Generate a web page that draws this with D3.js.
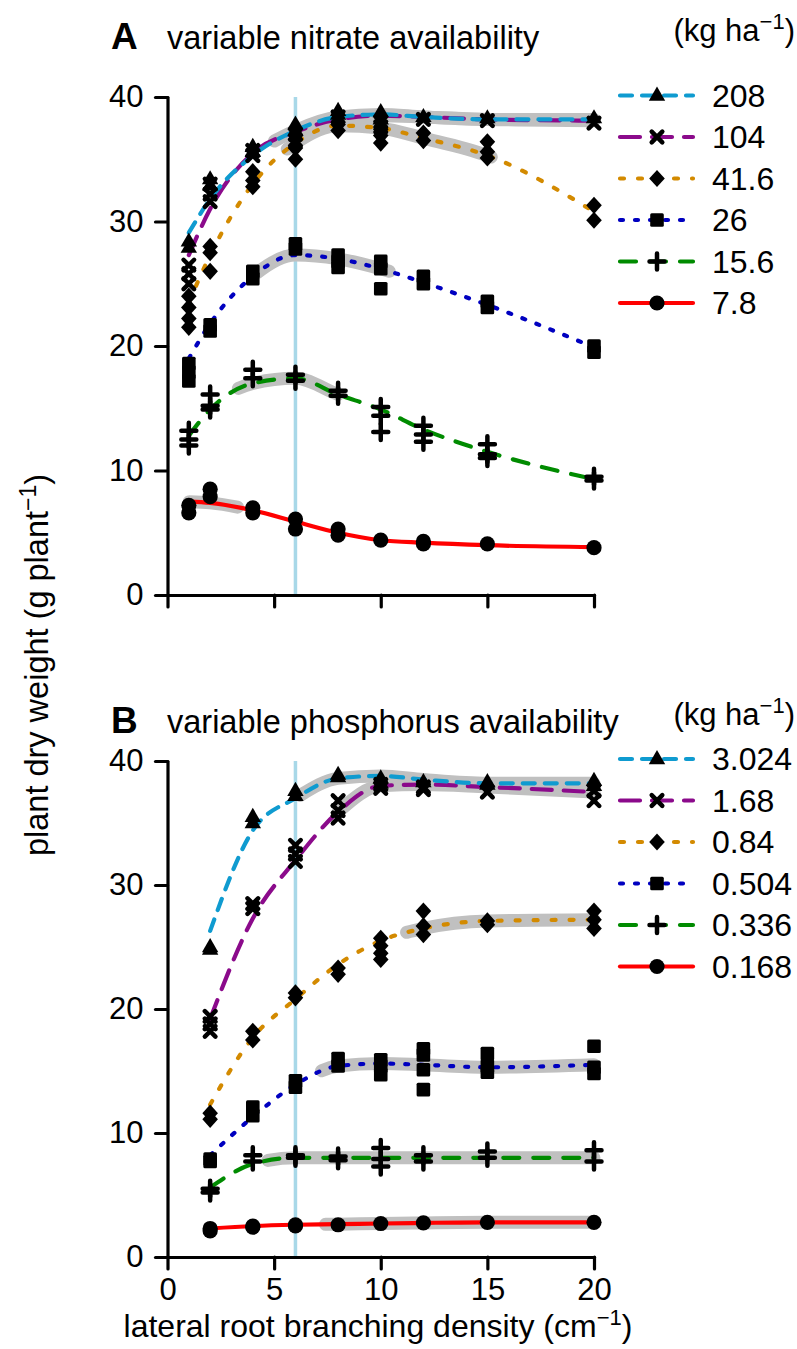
<!DOCTYPE html>
<html><head><meta charset="utf-8">
<script src="https://cdn.jsdelivr.net/npm/d3@7/dist/d3.min.js"></script>
<style>
body{margin:0;background:#fff}
text{font-family:"Liberation Sans",Arial,Helvetica,sans-serif;fill:#000}
</style>
</head><body>
<svg id="c" width="797" height="1349"></svg>
<script>
// ---------- data ----------
const xTicks = [0, 5, 10, 15, 20];
const yTicks = [0, 10, 20, 30, 40];
const optimumX = 6;

const labelsA = ["208", "104", "41.6", "26", "15.6", "7.8"];
const labelsB = ["3.024", "1.68", "0.84", "0.504", "0.336", "0.168"];

const xA = [1, 2, 4, 6, 8, 10, 12, 15, 20];
const xB = [2, 4, 6, 8, 10, 12, 15, 20];

// fitted curves (panel A)
const fitA_208  = [29.1, 31.8, 35.3, 37.3, 38.4, 38.6, 38.4, 38.2, 38.2];
const fitA_104  = [27.3, 31.0, 35.5, 37.2, 38.2, 38.5, 38.4, 38.2, 38.1];
const fitA_41_6 = [23.5, 27.3, 33.0, 36.3, 37.7, 37.5, 36.7, 35.3, 30.8];
const fitA_26   = [19.0, 21.8, 25.6, 27.3, 27.0, 26.2, 25.1, 23.3, 19.9];
const fitA_15_6 = [12.8, 14.9, 17.0, 17.4, 16.1, 14.9, 13.3, 11.5, 9.3];
const fitA_7_8  = [7.5, 7.4, 6.8, 5.9, 5.0, 4.4, 4.2, 4.0, 3.85];

// observations (panel A), replicates per x
const obsA_208  = [[28.4,27.9],[33.4,32.9],[36.0,35.6],[37.8,37.3],[38.9,38.6],[38.8,38.2],[38.4],[38.3],[38.3]];
const obsA_104  = [[26.5,25.8,25.0],[33.0,32.2,31.6],[35.7,35.3],[37.0,36.5],[38.4],[38.0,37.6],[38.2],[38.1],[37.9]];
const obsA_41_6 = [[24.0,23.1,22.2,21.5],[28.0,27.5,26.0],[34.0,33.3,32.8],[36.6,35.9,35.0],[37.8,37.3],[37.4,36.9,36.3],[37.1,36.5],[36.4,35.6,35.1],[31.3,30.1]];
const obsA_26   = [[18.6,17.9,17.2],[21.7,21.2],[26.0,25.4],[28.2,27.8],[27.3,26.8,26.3],[26.8,26.2,24.6],[25.6,25.0],[23.6,23.1],[20.0,19.5]];
const obsA_15_6 = [[13.2,12.5,12.0],[16.1,15.2,14.9],[18.1,17.4],[17.7,17.2],[16.4,16.0],[15.1,14.4,13.1],[13.6,12.9,12.3],[12.1,11.3,11.0],[9.5,9.2]];
const obsA_7_8  = [[7.2,6.6],[8.5,7.9],[7.0,6.6],[6.1,5.3],[5.3,4.8],[4.4],[4.3,4.1],[4.1],[3.8]];

// near-optimal ranges (grey bands), panel A
const bandA = [[5.0,20],[6.0,20],[5.6,15.2],[4.2,10.4],[3.3,8.0],[1.0,3.3]];

// fitted curves (panel B)
const fitB_3_024 = [26.3, 34.4, 37.0, 38.6, 38.8, 38.5, 38.2, 38.2];
const fitB_1_68  = [19.2, 27.3, 32.0, 35.9, 38.0, 38.1, 37.9, 37.5];
const fitB_0_84  = [12.3, 17.7, 20.8, 23.6, 25.5, 26.5, 27.1, 27.2];
const fitB_0_504 = [8.2, 11.3, 13.9, 15.4, 15.6, 15.5, 15.3, 15.5];
const fitB_0_336 = [5.6, 7.5, 8.0, 8.0, 8.0, 8.0, 8.0, 8.0];
const fitB_0_168 = [2.3, 2.5, 2.6, 2.65, 2.7, 2.75, 2.8, 2.8];

// observations (panel B)
const obsB_3_024 = [[25.0,24.8],[35.5,35.0],[37.6,37.2],[38.9,38.7],[38.6,38.2],[38.3],[38.3,38.1],[38.4,38.0]];
const obsB_1_68  = [[19.4,18.8,18.2],[28.5,28.1],[33.2,32.5,31.9],[36.8,36.0,35.4],[38.1,37.8],[37.9,37.7],[37.5],[37.6,36.8]];
const obsB_0_84  = [[11.6,11.1],[18.2,17.5],[21.3,20.9],[23.3,22.8],[25.7,25.1,24.5,24.0],[27.9,26.7,26.0],[27.1,26.8],[27.9,27.2,26.5]];
const obsB_0_504 = [[7.9,7.7],[12.1,11.4],[14.2,13.7],[16.0,15.4],[15.9,15.4,14.7],[16.8,16.3,15.1,13.5],[16.4,15.4,14.9],[17.0,15.3,14.8]];
const obsB_0_336 = [[5.5,5.2],[8.2,7.7],[8.2,8.0],[8.1,7.8],[8.8,7.9,7.3],[8.2,7.7],[8.5,8.0],[8.6,7.7]];
const obsB_0_168 = [[2.3,2.1],[2.5,2.4],[2.6,2.5],[2.6],[2.7],[2.75],[2.8],[2.8]];

const bandB = [[6.2,20],[8.0,20],[11.2,20],[7.2,20],[4.7,20],[7.4,20]];

// ---------- styles ----------
const colors = ["#0f9bd0", "#8b0a8b", "#d38a00", "#0000c0", "#008b00", "#ff0000"];
const dashes = ["12,10", "20,12", "4,14", "3,12", "16,14", null];
const shapes = ["triangle", "x", "diamond", "square", "plus", "circle"];
const FS = 31;

const svg = d3.select("#c");
const xS = d3.scaleLinear().domain([0, 20]).range([167.5, 594]);

function marker(g, shape, cx, cy) {
  const t = `translate(${cx},${cy})`;
  if (shape === "triangle") g.append("path").attr("d", "M0,-9L8.2,5.2L-8.2,5.2Z").attr("transform", t).attr("fill", "#000");
  else if (shape === "diamond") g.append("path").attr("d", "M0,-8.6L7.8,0L0,8.6L-7.8,0Z").attr("transform", t).attr("fill", "#000");
  else if (shape === "square") g.append("rect").attr("x", cx - 6.8).attr("y", cy - 6.8).attr("width", 13.6).attr("height", 13.6).attr("rx", 1.5).attr("fill", "#000");
  else if (shape === "circle") g.append("circle").attr("cx", cx).attr("cy", cy).attr("r", 7.6).attr("fill", "#000");
  else if (shape === "x") g.append("path").attr("d", "M-5.3,-5.3L5.3,5.3M-5.3,5.3L5.3,-5.3").attr("transform", t).attr("stroke", "#000").attr("stroke-width", 4.5).attr("stroke-linecap", "round");
  else if (shape === "plus") g.append("path").attr("d", "M-7.5,0L7.5,0M0,-8L0,8").attr("transform", t).attr("stroke", "#000").attr("stroke-width", 4.5).attr("stroke-linecap", "round");
}

const panels = [
  { letter: "A", title: "variable nitrate availability", yRange: [595, 97], xs: xA,
    fits: [fitA_208, fitA_104, fitA_41_6, fitA_26, fitA_15_6, fitA_7_8],
    obs: [obsA_208, obsA_104, obsA_41_6, obsA_26, obsA_15_6, obsA_7_8],
    bands: bandA, labels: labelsA, xLabels: false, titleY: 49, unitY: 41, legY0: 95.5 },
  { letter: "B", title: "variable phosphorus availability", yRange: [1257, 761], xs: xB,
    fits: [fitB_3_024, fitB_1_68, fitB_0_84, fitB_0_504, fitB_0_336, fitB_0_168],
    obs: [obsB_3_024, obsB_1_68, obsB_0_84, obsB_0_504, obsB_0_336, obsB_0_168],
    bands: bandB, labels: labelsB, xLabels: true, titleY: 733, unitY: 725, legY0: 759 }
];

panels.forEach(p => {
  const yS = d3.scaleLinear().domain([0, 40]).range(p.yRange);
  const g = svg.append("g");

  // optimum vertical line
  g.append("line").attr("x1", xS(optimumX)).attr("x2", xS(optimumX))
    .attr("y1", yS(40)).attr("y2", yS(0)).attr("stroke", "#a8d8e8").attr("stroke-width", 3.5);

  const line = d3.line().x(d => xS(d[0])).y(d => yS(d[1])).curve(d3.curveMonotoneX);

  // grey bands
  p.fits.forEach((f, i) => {
    const pts = p.xs.map((xv, j) => [xv, f[j]]);
    const path = g.append("path").attr("d", line(pts)).attr("fill", "none")
      .attr("stroke", "#c0c0c0").attr("stroke-width", 13).attr("stroke-linecap", "round");
    const node = path.node();
    const total = node.getTotalLength();
    const px0 = xS(p.bands[i][0]), px1 = xS(p.bands[i][1]);
    let L0 = 0, L1 = total;
    for (let L = 0; L <= total; L += 0.5) { if (node.getPointAtLength(L).x >= px0) { L0 = L; break; } }
    for (let L = total; L >= 0; L -= 0.5) { if (node.getPointAtLength(L).x <= px1) { L1 = L; break; } }
    path.attr("stroke-dasharray", `${Math.max(0.01, L1 - L0)},${total + 100}`).attr("stroke-dashoffset", -L0);
  });

  // fitted lines (bottom series first, top series last)
  for (let i = p.fits.length - 1; i >= 0; i--) {
    const pts = p.xs.map((xv, j) => [xv, p.fits[i][j]]);
    g.append("path").attr("d", line(pts)).attr("fill", "none")
      .attr("stroke", colors[i]).attr("stroke-width", 4.2).attr("stroke-linecap", "round")
      .attr("stroke-dasharray", dashes[i]);
  }

  // observations
  for (let i = p.obs.length - 1; i >= 0; i--) {
    p.obs[i].forEach((reps, j) => reps.forEach(v => marker(g, shapes[i], xS(p.xs[j]), yS(v))));
  }

  // axes
  const ya = d3.axisLeft(yS).tickValues(yTicks).tickSize(12).tickSizeOuter(0).tickPadding(12);
  const yg = g.append("g").attr("transform", `translate(${xS(0)},0)`).call(ya);
  const xa = d3.axisBottom(xS).tickValues(xTicks).tickSize(12).tickSizeOuter(0).tickPadding(9)
    .tickFormat(p.xLabels ? d3.format("d") : () => "");
  const xg = g.append("g").attr("transform", `translate(0,${yS(0)})`).call(xa);
  [yg, xg].forEach(a => {
    a.selectAll("path,line").attr("stroke", "#000").attr("stroke-width", 3.2).attr("stroke-linecap", "round");
    a.selectAll("text").attr("font-size", FS).attr("font-family", "Liberation Sans, Arial, sans-serif").attr("fill", "#000");
  });

  // titles
  g.append("text").attr("x", 111).attr("y", p.titleY).attr("font-size", 37).attr("font-weight", "bold").text(p.letter);
  g.append("text").attr("x", 167).attr("y", p.titleY).attr("font-size", 32.5).text(p.title);
  const u = g.append("text").attr("x", 795).attr("y", p.unitY).attr("text-anchor", "end").attr("font-size", FS);
  u.append("tspan").text("(kg ha");
  u.append("tspan").attr("dy", -12).attr("font-size", 22).text("\u22121");
  u.append("tspan").attr("dy", 12).text(")");

  // legend
  p.labels.forEach((lab, i) => {
    const ly = p.legY0 + i * 41.5;
    g.append("line").attr("x1", 620).attr("x2", 693).attr("y1", ly).attr("y2", ly)
      .attr("stroke", colors[i]).attr("stroke-width", 4.2).attr("stroke-linecap", "round")
      .attr("stroke-dasharray", dashes[i]);
    marker(g, shapes[i], 657, ly);
    g.append("text").attr("x", 712).attr("y", ly + 11).attr("font-size", 32).text(lab);
  });
});

// y-axis title
const yt = svg.append("text").attr("transform", "translate(48,665) rotate(-90)").attr("text-anchor", "middle").attr("font-size", 32.5);
yt.append("tspan").text("plant dry weight (g plant");
yt.append("tspan").attr("dy", -12).attr("font-size", 23).text("\u22121");
yt.append("tspan").attr("dy", 12).text(")");

// x-axis title
const xt = svg.append("text").attr("x", 378).attr("y", 1337).attr("text-anchor", "middle").attr("font-size", 32);
xt.append("tspan").text("lateral root branching density (cm");
xt.append("tspan").attr("dy", -12).attr("font-size", 22).text("\u22121");
xt.append("tspan").attr("dy", 12).text(")");
</script>
</body></html>
